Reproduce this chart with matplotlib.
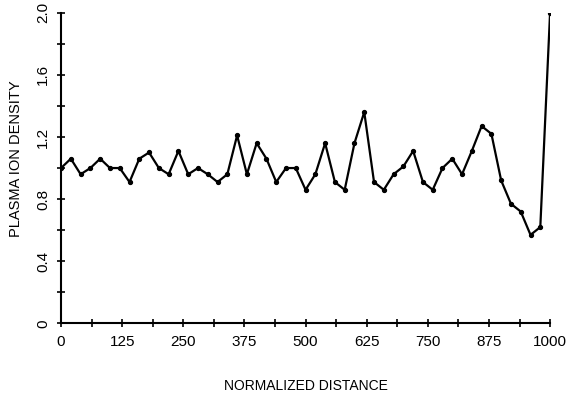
import numpy as np
import matplotlib
matplotlib.use('Agg')
import matplotlib.pyplot as plt

# normalized distance samples (every 20 units) and measured density
distance = np.arange(0, 1001, 20)
density = [1.00, 1.06, 0.96, 1.00, 1.06, 1.00, 1.00, 0.91, 1.06, 1.10,
           1.00, 0.96, 1.11, 0.96, 1.00, 0.96, 0.91, 0.96, 1.21, 0.96,
           1.16, 1.06, 0.91, 1.00, 1.00, 0.86, 0.96, 1.16, 0.91, 0.86,
           1.16, 1.36, 0.91, 0.86, 0.96, 1.01, 1.11, 0.91, 0.86, 1.00,
           1.06, 0.96, 1.11, 1.27, 1.22, 0.92, 0.77, 0.72, 0.57, 0.62,
           2.00]

x_ticks = np.arange(0, 1001, 62.5)
x_labels = ['0', '125', '250', '375', '500', '625', '750', '875', '1000']
y_ticks = np.arange(0, 2.01, 0.2)
y_labels = ['0', '0.4', '0.8', '1.2', '1.6', '2.0']

plt.rcParams['font.family'] = ['Liberation Sans', 'DejaVu Sans']

fig = plt.figure(figsize=(5.76, 3.94), dpi=100)
ax = fig.add_axes([0.106, 0.179, 0.849, 0.789])

ax.plot(distance, density, color='black', lw=1.6, marker='o', ms=2.8)

ax.set_xlim(0, 1000)
ax.set_ylim(0, 2.0)
for side in ('top', 'right'):
    ax.spines[side].set_visible(False)
for side in ('left', 'bottom'):
    ax.spines[side].set_linewidth(1.5)

ax.set_xticks(x_ticks)
ax.set_xticklabels([x_labels[i // 2] if i % 2 == 0 else '' for i in range(len(x_ticks))])
ax.set_yticks(y_ticks)
ax.set_yticklabels([y_labels[i // 2] if i % 2 == 0 else '' for i in range(len(y_ticks))],
                   rotation=90, va='center')
ax.tick_params(direction='inout', length=6, width=1.2, labelsize=11, pad=5)
ax.tick_params(axis='y', pad=5)

ax.set_xlabel('NORMALIZED DISTANCE', fontsize=10, labelpad=22)
ax.set_ylabel('PLASMA ION DENSITY', fontsize=10.5)
ax.yaxis.set_label_coords(-0.078, 0.53)

fig.savefig('out.png', dpi=100)
